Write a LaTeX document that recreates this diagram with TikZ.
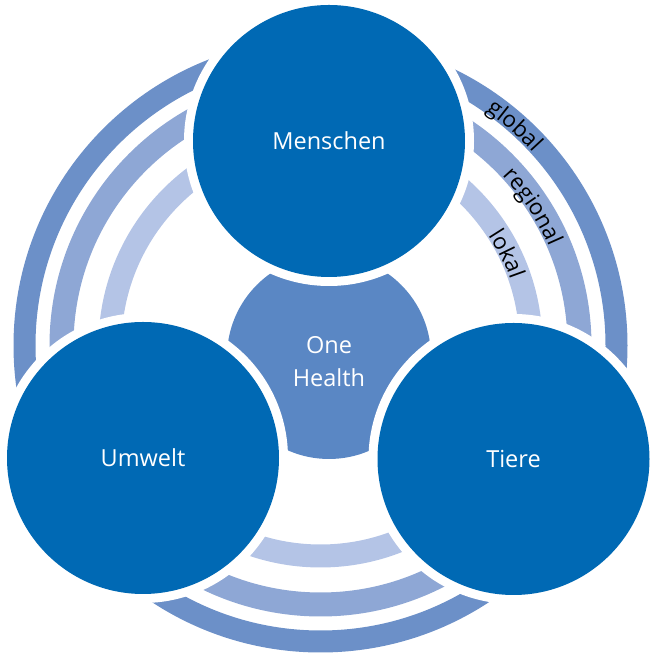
\documentclass[tikz,border=0pt]{standalone}
\usepackage{fontspec}
\setmainfont{Open Sans}
\usetikzlibrary{decorations.text}
\definecolor{bigblue}{RGB}{0,105,180}
\definecolor{ohblue}{RGB}{90,135,196}
\definecolor{globalc}{RGB}{108,144,200}
\definecolor{regionalc}{RGB}{142,167,213}
\definecolor{lokalc}{RGB}{180,196,230}
\newcommand\ringlabelfont{\fontsize{22.5}{26}\selectfont}
\begin{document}
\begin{tikzpicture}[x=1pt,y=1pt,
  bigcirc/.style={circle, fill=bigblue, minimum size=272pt, inner sep=0pt, text=white,
    font=\fontsize{23.5}{28}\selectfont, preaction={draw=white, line width=18pt}},
  ohshape/.style={circle, fill=ohblue, minimum size=204pt, inner sep=0pt},
  ohtext/.style={text=white, align=center, font=\fontsize{23.5}{33}\selectfont},
  ringlabel/.style={decorate, decoration={text along path, text align=center,
    text color=black, text={|\ringlabelfont|#1}}}
]
\useasboundingbox (0,0) rectangle (657,655);
\coordinate (C) at (320.5,309.5);
\fill[globalc, even odd rule] (C) circle[radius=307] (C) circle[radius=285];
\fill[regionalc, even odd rule] (C) circle[radius=271] (C) circle[radius=247];
\fill[lokalc, even odd rule] (C) circle[radius=222] (C) circle[radius=199];
\node[ohshape] (OH) at (329,298) {};
\node[bigcirc] (M) at (329,514) {Menschen};
\node[bigcirc] (U) at (143,197) {Umwelt};
\node[bigcirc] (T) at (513.5,196) {Tiere};
\node[ohtext] (OHt) at (329,293) {One\\Health};
\path[ringlabel=global] (C) ++(73.5:287) arc[start angle=73.5, end angle=23.5, radius=287];
\path[ringlabel=regional] (C) ++(58.2:249) arc[start angle=58.2, end angle=8.2, radius=249];
\path[ringlabel=lokal] (C) ++(51.1:201) arc[start angle=51.1, end angle=1.1, radius=201];
\end{tikzpicture}
\end{document}
